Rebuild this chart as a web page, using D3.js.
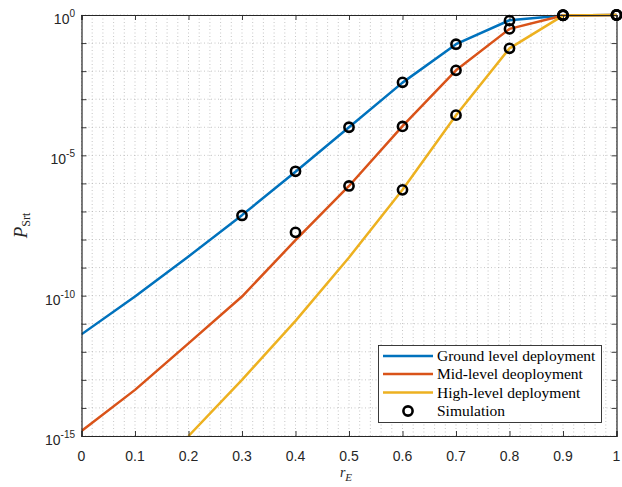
<!DOCTYPE html>
<html>
<head>
<meta charset="utf-8">
<script src="https://cdn.jsdelivr.net/npm/d3@7"></script>
<style>
  html, body { margin: 0; padding: 0; background: #fff; }
  svg { display: block; }
</style>
</head>
<body>
<svg id="chart" width="622" height="487"></svg>
<script>
// r_E sample points of the analytical curves
const rE = [0, 0.1, 0.2, 0.3, 0.4, 0.5, 0.6, 0.7, 0.8, 0.9, 1.0];

// Analytical P_Srt for each deployment height
const groundLevel = [4.2e-12, 9.3e-11, 2.5e-9, 7.4e-8, 2.6e-6, 1.0e-4, 3.9e-3, 0.091, 0.65, 0.955, 1];
const midLevel    = [1.5e-15, 4.4e-14, 2.0e-12, 9.3e-11, 9.5e-9, 8.1e-7, 1.1e-4, 0.0107, 0.32, 0.955, 1];
const highLevelX  = [0.2, 0.3, 0.4, 0.5, 0.6, 0.7, 0.8, 0.9, 1.0];
const highLevel   = [1.0e-15, 1.0e-13, 1.26e-11, 2.3e-9, 5.9e-7, 2.7e-4, 0.065, 0.955, 1];

// Monte-Carlo simulation points
const simGroundX = [0.3, 0.4, 0.5, 0.6, 0.7, 0.8, 0.9, 1.0];
const simGround  = [7.2e-8, 2.7e-6, 1.0e-4, 4.0e-3, 0.091, 0.63, 0.98, 1];
const simMidX    = [0.4, 0.5, 0.6, 0.7, 0.8, 0.9, 1.0];
const simMid     = [1.8e-8, 8.1e-7, 1.07e-4, 0.0107, 0.32, 0.98, 1];
const simHighX   = [0.6, 0.7, 0.8, 0.9, 1.0];
const simHigh    = [5.9e-7, 2.7e-4, 0.065, 0.98, 1];

const xTicks = [0, 0.1, 0.2, 0.3, 0.4, 0.5, 0.6, 0.7, 0.8, 0.9, 1];
const yLabelExps = [0, -5, -10, -15];
const legendLabels = ["Ground level deployment", "Mid-level deoployment", "High-level deployment", "Simulation"];
const colors = ["#0072BD", "#D95319", "#EDB120"];

const svg = d3.select("#chart");
const L = 81.5, R = 616.5, T = 15, B = 436;
const x = d3.scaleLinear().domain([0, 1]).range([L, R]);
const y = d3.scaleLog().domain([1e-15, 1]).range([B, T]);
const axisColor = "#262626";

// grid: decades horizontally, steps of 0.02 vertically
const decades = d3.range(-15, 1).map(e => Math.pow(10, e));
const gridX = d3.range(0, 51).map(i => i / 50);
const grid = svg.append("g").attr("stroke", "#b8b8b8").attr("stroke-width", 0.8)
  .attr("stroke-dasharray", "1,2.5").attr("fill", "none");
grid.selectAll("line.h").data(decades).join("line")
  .attr("x1", L).attr("x2", R).attr("y1", d => y(d)).attr("y2", d => y(d));
grid.selectAll("line.v").data(gridX).join("line")
  .attr("y1", T).attr("y2", B).attr("x1", d => x(d)).attr("x2", d => x(d));

// clip for the curves
svg.append("clipPath").attr("id", "plotClip").append("rect")
  .attr("x", L).attr("y", T - 6).attr("width", R - L + 6).attr("height", B - T + 6);

const line = d3.line().x(d => x(d[0])).y(d => y(d[1]));
const series = [
  d3.zip(rE, groundLevel),
  d3.zip(rE, midLevel),
  d3.zip(highLevelX, highLevel)
];
const plot = svg.append("g").attr("clip-path", "url(#plotClip)");
plot.selectAll("path.curve").data(series).join("path")
  .attr("class", "curve")
  .attr("d", line)
  .attr("fill", "none")
  .attr("stroke", (d, i) => colors[i])
  .attr("stroke-width", 2.5)
  .attr("stroke-linejoin", "round");

// axes box and ticks
const axes = svg.append("g");
const bottomAxis = d3.axisBottom(x).tickValues(xTicks).tickSize(-5).tickFormat("");
const topAxis = d3.axisTop(x).tickValues(xTicks).tickSize(-5).tickFormat("");
const leftAxis = d3.axisLeft(y).tickValues(decades).tickSize(-5).tickFormat("");
const rightAxis = d3.axisRight(y).tickValues(decades).tickSize(-5).tickFormat("");
[[bottomAxis, `translate(0,${B})`], [topAxis, `translate(0,${T})`],
 [leftAxis, `translate(${L},0)`], [rightAxis, `translate(${R},0)`]].forEach(([ax, tr]) => {
  const g = axes.append("g").attr("transform", tr).call(ax);
  g.select(".domain").attr("stroke", axisColor).attr("stroke-width", 1.2);
  g.selectAll(".tick line").attr("stroke", axisColor).attr("stroke-width", 0.9);
});

// simulation markers
const sims = [d3.zip(simGroundX, simGround), d3.zip(simMidX, simMid), d3.zip(simHighX, simHigh)];
svg.append("g").selectAll("g").data(sims).join("g")
  .selectAll("circle").data(d => d).join("circle")
  .attr("cx", d => x(d[0])).attr("cy", d => y(d[1])).attr("r", 4.6)
  .attr("fill", "none").attr("stroke", "#000").attr("stroke-width", 2.6);

// tick labels
const sans = "'Liberation Sans', Arial, Helvetica, sans-serif";
svg.append("g").selectAll("text").data(xTicks).join("text")
  .attr("x", d => x(d)).attr("y", B + 25)
  .attr("text-anchor", "middle")
  .attr("font-family", sans).attr("font-size", 14).attr("fill", axisColor)
  .text(d => d3.format("")(d));

const yl = svg.append("g").selectAll("text").data(yLabelExps).join("text")
  .attr("x", 75).attr("y", d => y(Math.pow(10, d)) + 9)
  .attr("text-anchor", "end")
  .attr("font-family", sans).attr("font-size", 14).attr("fill", axisColor);
yl.append("tspan").text("10");
yl.append("tspan").attr("dy", -7).attr("font-size", 10).text(d => d === 0 ? "0" : "-" + (-d));

// axis titles
const serif = "'Liberation Serif', 'Times New Roman', serif";
const xt = svg.append("text").attr("x", 346).attr("y", 477)
  .attr("text-anchor", "middle").attr("font-family", serif).attr("font-size", 14).attr("fill", axisColor);
xt.append("tspan").attr("font-style", "italic").text("r");
xt.append("tspan").attr("font-style", "italic").attr("font-size", 11).attr("dy", 4).text("E");

const ytl = svg.append("text").attr("transform", `translate(27,${(T + B) / 2}) rotate(-90)`)
  .attr("text-anchor", "middle").attr("font-family", serif).attr("font-size", 19).attr("fill", axisColor);
ytl.append("tspan").attr("font-style", "italic").text("P");
ytl.append("tspan").attr("font-size", 12).attr("dy", 3).text("Srt");

// legend
const lg = svg.append("g");
lg.append("rect").attr("x", 378.5).attr("y", 345.5).attr("width", 223).attr("height", 77)
  .attr("fill", "#fff").attr("stroke", axisColor).attr("stroke-width", 0.9);
const rowsY = [356, 374, 392.5, 411];
const items = lg.selectAll("g.item").data(legendLabels).join("g").attr("class", "item")
  .attr("transform", (d, i) => `translate(0,${rowsY[i]})`);
items.filter((d, i) => i < 3).append("line")
  .attr("x1", 383).attr("x2", 433).attr("y1", 0).attr("y2", 0)
  .attr("stroke", (d, i) => colors[i]).attr("stroke-width", 2.5);
items.filter((d, i) => i === 3).append("circle")
  .attr("cx", 408).attr("cy", 0).attr("r", 4.6)
  .attr("fill", "none").attr("stroke", "#000").attr("stroke-width", 2.6);
items.append("text").attr("x", 437).attr("y", 5)
  .attr("font-family", serif).attr("font-size", 15.5).attr("fill", "#000")
  .text(d => d);
</script>
</body>
</html>
